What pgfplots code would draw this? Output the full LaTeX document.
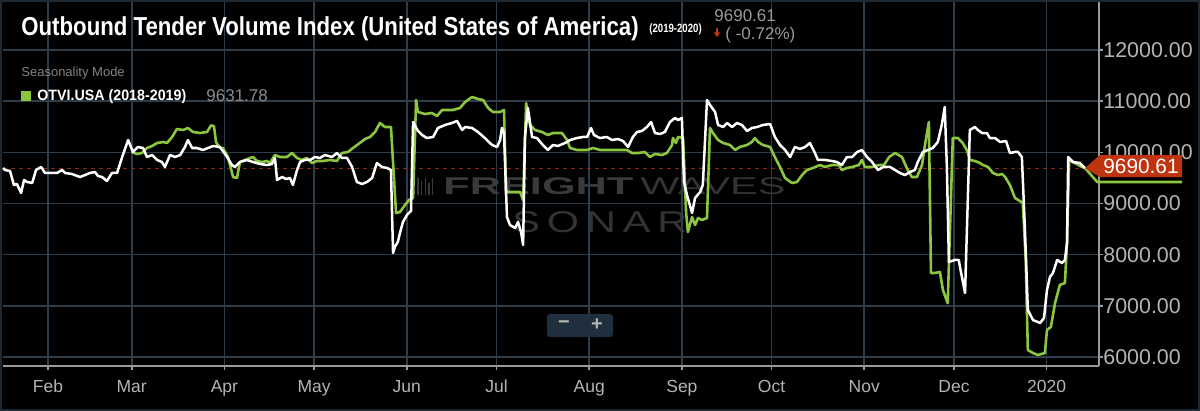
\documentclass[border=0pt]{standalone}
\usepackage{fontspec}
\setmainfont{Liberation Sans}
\usepackage{pgfplots}
\pgfplotsset{compat=1.18}
\usetikzlibrary{calc}
\usepackage{graphicx}
\definecolor{gridc}{HTML}{2E3D4A}
\definecolor{otvigreen}{HTML}{8CC63F}
\definecolor{flagred}{HTML}{C0330F}
\definecolor{ticklab}{HTML}{B4B4B4}
\definecolor{axisc}{HTML}{9A9A9A}
\definecolor{wm}{HTML}{3A3A3A}
\definecolor{wmthin}{HTML}{333333}
\definecolor{frame}{HTML}{1E2A33}
\definecolor{btn}{HTML}{1F2F3D}
\definecolor{dashred}{HTML}{8A2A17}
\definecolor{subgray}{HTML}{9A9A9A}

\pgfplotstableread{
d v
16.0 9694
16.6 9655
18.3 9636
19.6 9362
20.6 9382
22.0 9206
23.0 9460
24.0 9421
25.7 9401
27.0 9655
28.7 9714
30.0 9597
31.7 9597
34.0 9597
35.7 9655
36.7 9597
39.0 9577
41.7 9518
43.4 9557
45.0 9597
46.7 9616
47.7 9538
49.1 9518
50.7 9440
52.4 9597
54.1 9597
55.8 9909
57.8 10241
59.4 10007
61.1 10105
62.8 10085
64.1 9909
65.8 9948
67.5 9851
69.1 9811
70.1 9714
71.8 9948
73.5 9909
75.2 9948
76.8 10105
77.8 10241
79.2 10085
80.8 10085
82.8 10046
84.5 10085
86.2 10124
88.5 10105
90.9 9909
92.5 9753
93.5 9714
95.2 9811
97.5 9851
99.6 9811
101.9 9772
104.2 9753
105.9 9772
106.9 9890
107.6 9460
109.3 9518
110.6 9479
111.9 9499
112.9 9362
114.3 9655
115.3 9811
116.9 9851
118.6 9851
120.3 9909
121.9 9890
123.6 9948
126.0 9909
127.6 9987
129.3 9890
131.0 9890
132.7 9714
134.3 9421
136.0 9382
137.7 9421
139.4 9499
141.0 9792
142.7 9714
144.4 9694
145.7 9655
146.4 8033
147.0 8151
148.0 8248
148.7 8420
149.7 8639
151.1 8780
152.4 8854
153.1 10593
154.7 10420
156.1 10339
157.7 10280
159.8 10300
161.4 10476
163.8 10535
166.1 10574
167.8 10613
169.5 10437
170.5 10495
172.8 10476
174.8 10398
177.1 10280
179.5 10144
181.2 10105
182.2 10241
182.8 10476
183.5 10378
184.5 8737
185.5 8580
187.2 8522
188.2 8639
189.2 8444
189.9 8190
190.5 10280
191.5 10867
192.9 10300
194.5 10280
196.5 10144
198.2 10046
199.9 10144
201.5 10124
203.9 10183
205.6 10241
207.9 10280
209.9 10300
211.3 10300
212.6 10476
213.6 10339
215.6 10280
217.9 10300
219.6 10241
221.6 10261
223.3 10222
225.0 10105
226.6 10300
228.0 10398
229.6 10417
231.3 10495
232.7 10593
234.0 10378
235.7 10359
237.3 10398
239.0 10593
240.7 10671
241.7 10632
243.0 10671
243.7 9421
244.7 9167
246.4 8815
247.4 9108
249.1 9225
250.0 9362
251.4 11023
252.4 10925
254.1 10789
255.1 10535
256.8 10495
258.1 10574
259.8 10495
261.4 10574
263.1 10535
264.8 10417
266.4 10476
268.1 10495
270.1 10535
272.5 10554
274.1 10300
275.8 10144
277.5 10046
279.2 9909
280.8 10105
282.5 10066
284.2 10105
285.8 10183
287.5 9987
288.5 9851
290.9 9851
293.2 9831
294.9 9811
296.5 9753
298.2 9909
299.9 9909
301.6 10007
303.2 10046
304.9 9909
306.6 9811
308.6 9655
310.3 9714
312.6 9714
314.3 9655
315.9 9597
317.6 9557
319.3 9616
320.9 9655
321.9 9811
323.6 10007
325.3 10046
326.9 10085
328.6 10202
329.9 10535
330.9 10886
331.6 9753
332.3 7857
334.3 7897
335.6 7897
336.0 7760
337.7 7252
339.3 10437
341.0 10495
342.0 10437
343.4 10378
345.0 10378
346.0 10280
347.7 10280
349.4 10202
351.4 10222
352.7 9987
354.4 10007
355.4 10007
356.7 9909
357.7 8541
358.7 6920
360.4 6724
362.8 6665
364.1 6763
365.1 7311
366.1 7564
367.1 7642
368.5 7897
370.1 7838
371.1 7897
371.8 8229
372.2 9909
373.8 9811
376.1 9792
377.8 9690.61
}\whitedata

\pgfplotstableread{
d v
59.0 10007
60.8 9968
62.4 9987
64.1 10085
65.8 10124
67.5 10183
69.5 10202
70.8 10183
72.5 10300
74.1 10456
76.2 10437
77.8 10476
79.5 10398
81.8 10378
84.2 10398
85.5 10525
86.5 10515
87.2 10200
88.5 10085
89.5 10085
91.2 9909
92.9 9518
94.2 9499
95.2 9811
96.9 9851
98.6 9890
99.6 9909
100.9 9831
102.6 9811
104.2 9831
105.2 9792
106.9 9948
108.6 9909
110.9 9909
112.6 9987
114.3 9890
115.9 9851
117.6 9890
119.3 9792
120.9 9831
122.9 9831
125.3 9851
127.6 9831
129.3 9987
131.3 10007
133.0 10085
135.3 10183
137.0 10261
138.7 10300
140.4 10398
142.0 10574
143.7 10495
145.7 10495
147.4 8815
148.7 8834
150.4 8971
151.7 9069
153.1 9108
154.1 11023
154.7 10789
157.1 10749
159.4 10769
161.1 10710
162.8 10828
164.4 10828
166.4 10828
168.8 10867
170.5 10984
172.8 11082
174.8 11043
176.5 11023
178.2 10867
179.8 10789
182.2 10789
183.5 10828
184.2 9225
185.5 9225
188.9 9225
189.9 9069
190.9 10964
192.2 10535
193.9 10437
196.2 10398
198.2 10339
199.9 10378
202.9 10378
204.6 10241
205.6 10085
207.9 10046
211.3 10046
213.3 10085
215.6 10046
217.9 10046
219.9 10046
222.3 10046
224.6 10046
226.3 9987
228.3 9987
230.6 10007
232.3 9909
234.0 9968
236.3 9948
238.0 9987
239.7 10144
240.0 10280
241.0 10183
241.7 10300
243.4 10280
244.4 8834
245.0 8444
246.4 8737
247.4 8580
248.4 8717
249.7 8678
251.4 8717
252.4 10476
253.4 10378
255.1 10241
256.8 10183
259.1 10144
260.8 10046
262.4 10105
264.8 10144
266.4 10202
267.4 10280
268.5 10202
270.1 10144
272.5 10105
274.1 9909
275.8 9714
277.5 9499
279.8 9401
281.5 9421
283.2 9557
284.8 9655
286.8 9694
289.2 9753
290.9 9714
293.2 9753
295.5 9753
296.5 9655
298.2 9694
299.9 9714
302.2 9753
303.2 9851
304.2 9714
306.6 9714
308.9 9753
310.6 9753
312.3 9909
314.3 9987
316.6 9909
318.2 9694
319.9 9518
321.6 9518
323.3 9753
324.3 10144
325.6 10593
326.3 7643
327.6 7643
329.3 7662
330.3 7311
331.9 7053
333.6 10280
335.3 10280
336.9 10183
338.3 10046
339.3 9851
341.0 9831
342.7 9792
343.7 9753
345.4 9714
347.0 9597
348.7 9557
350.1 9577
351.1 9518
352.7 9362
354.4 9108
356.0 9050
357.0 9010
358.0 7897
358.7 6138
360.4 6079
362.1 6040
364.4 6079
365.1 6529
366.4 6587
367.8 7056
369.4 7408
371.1 7447
371.8 8229
372.5 9851
374.4 9792
376.8 9714
377.8 9694
381.9 9421
410.3 9421
}\greendata

\begin{document}
\begin{tikzpicture}[x=1pt,y=1pt]
\useasboundingbox (0,0) rectangle (600,205.5);
\fill[black] (0,0) rectangle (600,205.5);
\draw[frame, line width=1pt] (0.5,0.5) rectangle (599.5,205);

% watermark
\foreach \xx/\hh in {209/8.5,210.8/7,212.6/8.5,214.4/6,216.2/8.5}{
  \draw[wm, line width=0.7pt] (\xx,108) -- ++(0,\hh);
}
\node[anchor=base west, inner sep=0pt, text=wm] at (221.5,108) {\resizebox{95pt}{8.5pt}{\bfseries FREIGHT}};
\node[anchor=base west, inner sep=0pt, text=wmthin] at (320,108) {\resizebox{72.5pt}{8.5pt}{WAVES}};
\node[anchor=base west, inner sep=0pt, text=wmthin] at (256,89) {\resizebox{87.5pt}{10.5pt}{S\,O\,N\,A\,R}};

\begin{axis}[
  at={(1.5pt,22.5pt)}, anchor=south west,
  scale only axis, width=548pt, height=182pt,
  xmin=15.95, xmax=382.5, ymin=5825, ymax=12938,
  axis x line*=bottom, axis y line*=right,
  axis line style={draw=axisc, line width=0.8pt},
  xtick={31,59,90,120,151,181,212,243,273,304,334,365},
  xticklabels={Feb,Mar,Apr,May,Jun,Jul,Aug,Sep,Oct,Nov,Dec,2020},
  ytick={6000,7000,8000,9000,10000,11000,12000},
  yticklabels={6000.00,7000.00,8000.00,9000.00,10000.00,11000.00,12000.00},
  xmajorgrids=true, ymajorgrids=true,
  major grid style={draw=gridc, line width=0.8pt},
  tick align=outside, major tick length=2pt,
  tick style={draw=axisc, line width=0.8pt},
  xticklabel style={font=\fontsize{8.75pt}{10pt}\selectfont, text=ticklab, yshift=-1.5pt},
  yticklabel style={font=\fontsize{10.7pt}{12pt}\selectfont, text=ticklab, anchor=west, inner xsep=0pt},
  clip=false,
]
\addplot[dashred, line width=0.6pt, dash pattern=on 2pt off 2pt] coordinates {(15.95,9690.61) (377.8,9690.61)};
\addplot[otvigreen, line width=1.3pt, line join=round] table[x=d,y=v] {\greendata};
\addplot[white, line width=1.25pt, line join=round] table[x=d,y=v] {\whitedata};
\coordinate (tip) at (axis cs:377.8,9690.61);
\coordinate (ftl) at (axis cs:382.8,9948);
\coordinate (fbr) at (axis cs:410.3,9518);
\end{axis}

% price flag
\fill[flagred] (tip) -- (ftl) -- (ftl -| fbr) -- (fbr) -- (fbr -| ftl) -- cycle;
\node[text=white, inner sep=0pt, font=\fontsize{10.4pt}{12pt}\selectfont] at ($(ftl)!0.5!(fbr)$) {9690.61};

% title
\node[anchor=base west, inner sep=0pt, text=white] at (10.5,187.5) {\scalebox{0.854}[1]{\fontsize{13pt}{15pt}\selectfont\bfseries Outbound Tender Volume Index (United States of America)}};
\node[anchor=base west, inner sep=0pt, text=white] at (324.5,189) {\scalebox{0.8}[1]{\fontsize{6pt}{7pt}\selectfont\bfseries (2019-2020)}};
\node[anchor=base west, inner sep=0pt, text=subgray] at (357,194.5) {\fontsize{8.5pt}{10pt}\selectfont 9690.61};
\node[anchor=base west, inner sep=0pt, text=subgray] at (362.5,185.5) {\fontsize{8.5pt}{10pt}\selectfont ( -0.72\%)};
\fill[flagred] (356.9,189.3) -- (360.1,189.3) -- (358.5,186.9) -- cycle;
\draw[flagred, line width=0.9pt] (358.5,191.6) -- (358.5,189.1);

% legend
\node[anchor=base west, inner sep=0pt, text=subgray!85!black] at (10.5,167.2) {\fontsize{6.5pt}{8pt}\selectfont Seasonality Mode};
\fill[otvigreen] (10.5,155) rectangle (15.5,160);
\node[anchor=base west, inner sep=0pt, text=white] at (18.5,155) {\scalebox{0.95}[1]{\fontsize{7.5pt}{9pt}\selectfont\bfseries OTVI.USA (2018-2019)}};
\node[anchor=base west, inner sep=0pt, text=subgray!90!black] at (103,154.5) {\fontsize{8.5pt}{10pt}\selectfont 9631.78};

% zoom buttons
\fill[btn, rounded corners=1.5pt] (273.5,37) rectangle (306.5,48.5);
\node[text=ticklab, font=\fontsize{10pt}{12pt}\selectfont\bfseries, inner sep=0pt] at (282,43) {−};
\node[text=ticklab, font=\fontsize{10pt}{12pt}\selectfont\bfseries, inner sep=0pt] at (298.5,43) {+};
\end{tikzpicture}
\end{document}
